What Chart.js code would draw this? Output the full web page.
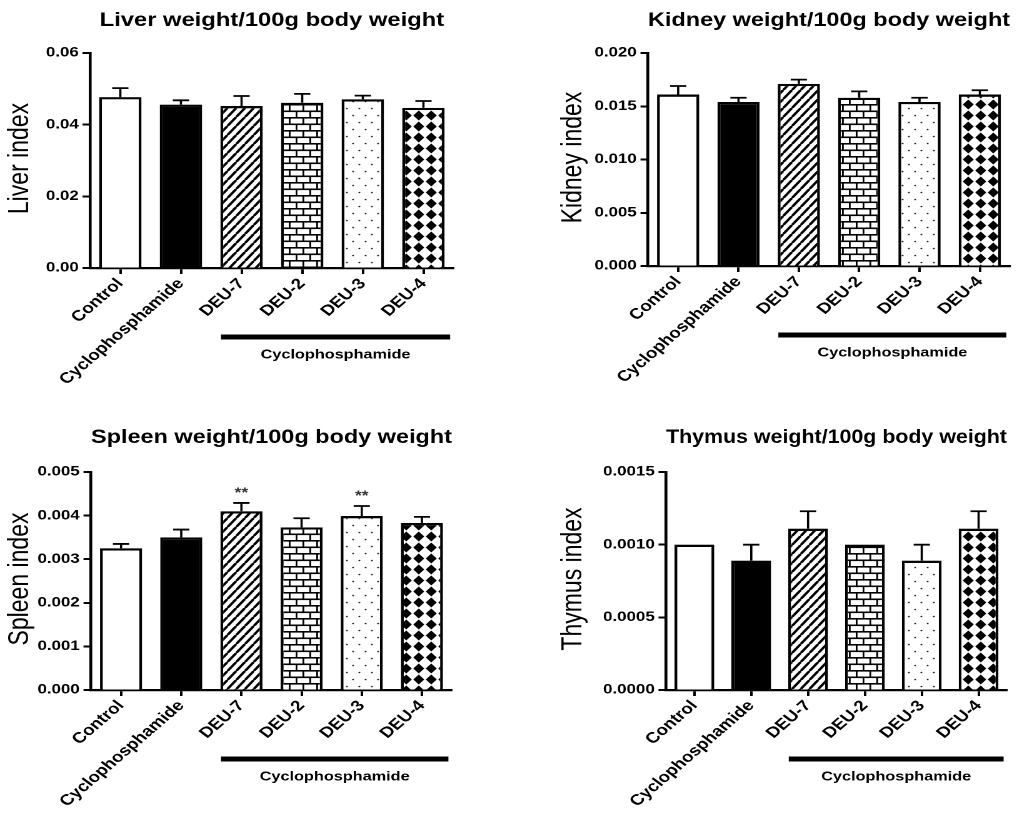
<!DOCTYPE html>
<html>
<head>
<meta charset="utf-8">
<script src="https://cdn.jsdelivr.net/npm/chart.js@4.4.1/dist/chart.umd.min.js"></script>
<style>
  html, body { margin: 0; padding: 0; background: #fff; }
  #wrap { position: relative; width: 1018px; height: 821px; overflow: hidden; }
  /* the figure is a bit wide: draw narrower and stretch sideways */
  #wrap canvas { position: absolute; transform: scaleX(1.25); transform-origin: 0 0; }
</style>
</head>
<body>
<div id="wrap">
  <canvas id="liver" width="410" height="410" style="left:0;top:0"></canvas>
  <canvas id="kidney" width="405" height="410" style="left:512px;top:0"></canvas>
  <canvas id="spleen" width="410" height="411" style="left:0;top:410px"></canvas>
  <canvas id="thymus" width="405" height="411" style="left:512px;top:410px"></canvas>
</div>
<script>
const groups = ['Control', 'Cyclophosphamide', 'DEU-7', 'DEU-2', 'DEU-3', 'DEU-4'];
const groupLabel = 'Cyclophosphamide';

const liverMean = [0.0477, 0.0456, 0.0452, 0.0461, 0.0471, 0.0447];
const liverSem = [0.0025, 0.0012, 0.0028, 0.0025, 0.0010, 0.0019];
const liverTicks = [0, 0.02, 0.04, 0.06];
const liverTickLabels = ['0.00', '0.02', '0.04', '0.06'];

const kidneyMean = [0.0161, 0.0154, 0.0171, 0.0158, 0.0154, 0.0161];
const kidneySem = [0.0008, 0.0004, 0.0004, 0.0006, 0.0004, 0.0004];
const kidneyTicks = [0, 0.005, 0.010, 0.015, 0.020];
const kidneyTickLabels = ['0.000', '0.005', '0.010', '0.015', '0.020'];

const spleenMean = [0.00325, 0.00350, 0.00410, 0.00373, 0.00399, 0.00383];
const spleenSem = [0.00010, 0.00018, 0.00019, 0.00021, 0.00023, 0.00014];
const spleenTicks = [0, 0.001, 0.002, 0.003, 0.004, 0.005];
const spleenTickLabels = ['0.000', '0.001', '0.002', '0.003', '0.004', '0.005'];
const spleenStars = ['', '', '**', '', '**', ''];

const thymusMean = [0.00100, 0.00089, 0.00111, 0.00100, 0.00089, 0.00111];
const thymusSem = [0, 0.00011, 0.00012, 0, 0.00011, 0.00012];
const thymusTicks = [0, 0.0005, 0.0010, 0.0015];
const thymusTickLabels = ['0.0000', '0.0005', '0.0010', '0.0015'];

const FONT = '"Liberation Sans", Arial, Helvetica, sans-serif';

// small tiles for the hatched bars
function makePattern(w, h, draw) {
  const k = 2;
  const c = document.createElement('canvas');
  c.width = w * k;
  c.height = h * k;
  const g = c.getContext('2d');
  g.scale(k, k);
  g.fillStyle = '#fff';
  g.fillRect(0, 0, w, h);
  g.fillStyle = '#000';
  g.strokeStyle = '#000';
  draw(g, w, h);
  const p = g.createPattern(c, 'repeat');
  p.setTransform(new DOMMatrix().scale(1 / k));
  return p;
}

const stripes = makePattern(7, 9, (g, w, h) => {
  g.lineWidth = 2.2;
  g.beginPath();
  for (let o = -w; o <= w; o += w) {
    g.moveTo(o, h);
    g.lineTo(o + w, 0);
  }
  g.stroke();
});

const bricks = makePattern(11, 13, (g, w, h) => {
  g.fillRect(0, 0, w, 1.6);
  g.fillRect(0, h / 2, w, 1.6);
  g.fillRect(0, 0, 1.4, h / 2);
  g.fillRect(w / 2, h / 2, 1.4, h / 2);
});

const dots = makePattern(10, 14, (g) => {
  g.fillStyle = '#222';
  g.beginPath();
  g.arc(2.5, 3.5, 0.8, 0, Math.PI * 2);
  g.arc(7.5, 10.5, 0.8, 0, Math.PI * 2);
  g.fill();
});

const diamonds = makePattern(10, 11, (g, w, h) => {
  g.beginPath();
  g.moveTo(w / 2, h / 2 - 5);
  g.lineTo(w / 2 + 4.4, h / 2);
  g.lineTo(w / 2, h / 2 + 5);
  g.lineTo(w / 2 - 4.4, h / 2);
  g.closePath();
  g.fill();
});

const fills = ['#fff', '#000', stripes, bricks, dots, diamonds];

const panels = [
  { id: 'liver', title: 'Liver weight/100g body weight', yTitle: 'Liver index',
    mean: liverMean, sem: liverSem, ticks: liverTicks, tickLabels: liverTickLabels,
    area: { left: 72, right: 363, top: 53, bottom: 268 }, yTitleX: 16, titleY: 21 },
  { id: 'kidney', title: 'Kidney weight/100g body weight', yTitle: 'Kidney index',
    mean: kidneyMean, sem: kidneySem, ticks: kidneyTicks, tickLabels: kidneyTickLabels,
    area: { left: 108.8, right: 398.4, top: 53, bottom: 266 }, yTitleX: 49, titleY: 21 },
  { id: 'spleen', title: 'Spleen weight/100g body weight', yTitle: 'Spleen index',
    mean: spleenMean, sem: spleenSem, ticks: spleenTicks, tickLabels: spleenTickLabels, stars: spleenStars,
    area: { left: 72.8, right: 361.6, top: 62, bottom: 280 }, yTitleX: 16, titleY: 28 },
  { id: 'thymus', title: 'Thymus weight/100g body weight', yTitle: 'Thymus index',
    mean: thymusMean, sem: thymusSem, ticks: thymusTicks, tickLabels: thymusTickLabels,
    area: { left: 123.2, right: 396, top: 62, bottom: 280 }, yTitleX: 49, titleY: 28 }
];

panels.forEach(p => {
  const canvas = document.getElementById(p.id);
  const W = canvas.width;
  const H = canvas.height;
  const titleSize = 19;
  const titleLine = titleSize * 1.2;
  const titleTop = p.titleY - titleLine / 2;

  const extras = {
    id: 'extras',
    afterDatasetsDraw(chart) {
      const ctx = chart.ctx;
      const x = chart.scales.x;
      const y = chart.scales.y;
      const area = chart.chartArea;
      const meta = chart.getDatasetMeta(0);
      ctx.save();
      ctx.strokeStyle = '#000';
      ctx.lineWidth = 1.8;
      meta.data.forEach((bar, i) => {
        if (!p.sem[i]) return;
        const top = y.getPixelForValue(p.mean[i] + p.sem[i]);
        ctx.beginPath();
        ctx.moveTo(bar.x, bar.y);
        ctx.lineTo(bar.x, top);
        ctx.moveTo(bar.x - 6.5, top);
        ctx.lineTo(bar.x + 6.5, top);
        ctx.stroke();
        if (p.stars && p.stars[i]) {
          ctx.fillStyle = '#333';
          ctx.font = 'bold 14px ' + FONT;
          ctx.textAlign = 'center';
          ctx.textBaseline = 'middle';
          ctx.fillText(p.stars[i], bar.x, top - 10);
        }
      });

      // line under the treated groups
      const sp = x.getPixelForValue(1) - x.getPixelForValue(0);
      const x0 = x.getPixelForValue(2) - 0.34 * sp;
      const x1 = x.getPixelForValue(5) + 0.44 * sp;
      ctx.fillStyle = '#000';
      ctx.fillRect(x0, area.bottom + 66.5, x1 - x0, 5);
      ctx.font = 'bold 13px ' + FONT;
      ctx.textAlign = 'center';
      ctx.textBaseline = 'middle';
      ctx.fillText(groupLabel, (x0 + x1) / 2, area.bottom + 87);

      // y axis title
      ctx.translate(p.yTitleX, (area.top + area.bottom) / 2 - 2);
      ctx.rotate(-Math.PI / 2);
      ctx.font = '23px ' + FONT;
      ctx.fillText(p.yTitle, 0, 0);
      ctx.restore();
    }
  };

  new Chart(canvas, {
    type: 'bar',
    data: {
      labels: groups,
      datasets: [{
        data: p.mean,
        backgroundColor: fills,
        borderColor: '#000',
        borderWidth: 2.3,
        barPercentage: 0.7,
        categoryPercentage: 1
      }]
    },
    options: {
      responsive: false,
      animation: false,
      devicePixelRatio: 2,
      layout: { padding: { left: 0, right: W - p.area.right, top: 0, bottom: 0 } },
      plugins: {
        legend: { display: false },
        tooltip: { enabled: false },
        title: {
          display: true,
          text: p.title,
          fullSize: false,
          color: '#000',
          font: { family: FONT, size: titleSize, weight: 'bold' },
          padding: { top: titleTop, bottom: p.area.top - titleTop - titleLine }
        }
      },
      scales: {
        x: {
          afterFit: s => { s.height = H - p.area.bottom; },
          grid: { drawOnChartArea: false, offset: false, tickLength: 6, tickWidth: 2, tickColor: '#000' },
          border: { color: '#000', width: 2.3 },
          ticks: {
            autoSkip: false, minRotation: 47, maxRotation: 47, padding: 1,
            color: '#000', font: { family: FONT, size: 15, weight: 'bold' }
          }
        },
        y: {
          min: 0,
          max: p.ticks[p.ticks.length - 1],
          afterFit: s => { s.width = p.area.left; },
          afterBuildTicks: s => { s.ticks = p.ticks.map(v => ({ value: v })); },
          grid: { drawOnChartArea: false, tickLength: 6, tickWidth: 2, tickColor: '#000' },
          border: { color: '#000', width: 2.3 },
          ticks: {
            padding: 3,
            color: '#000',
            font: { family: FONT, size: 13.5, weight: 'bold' },
            callback: (v, i) => p.tickLabels[i]
          }
        }
      }
    },
    plugins: [extras]
  });
});
</script>
</body>
</html>
